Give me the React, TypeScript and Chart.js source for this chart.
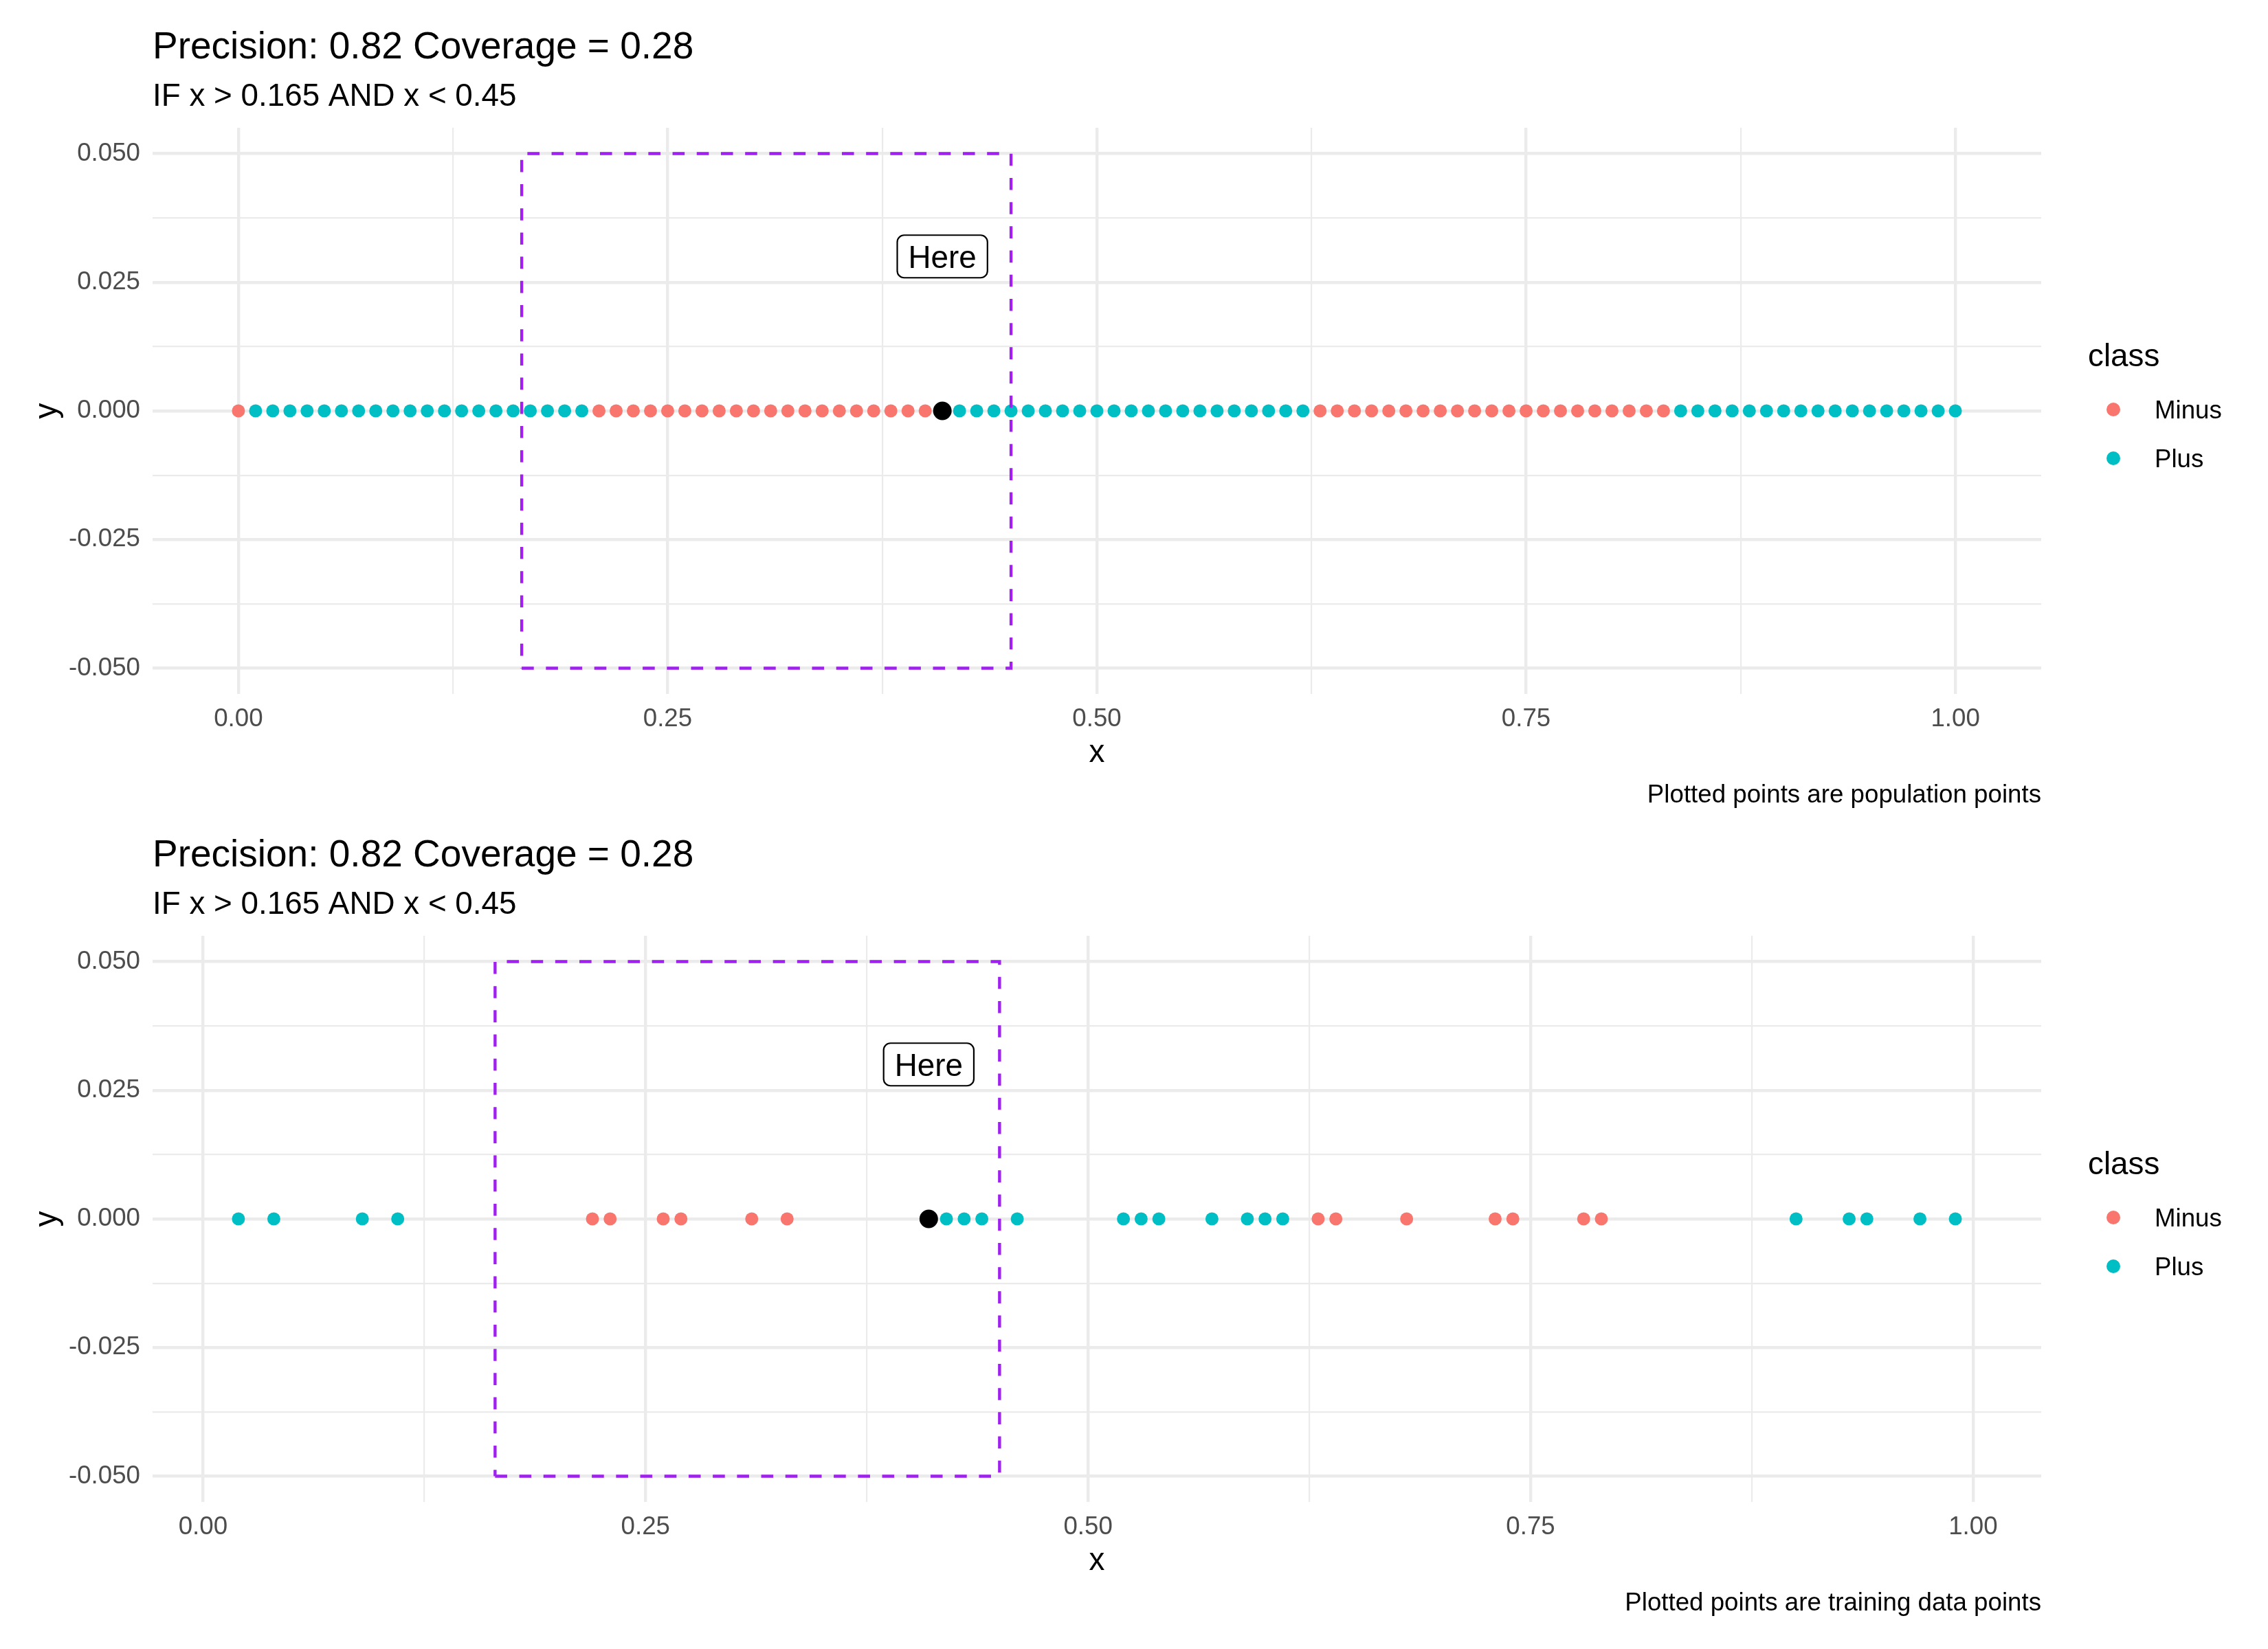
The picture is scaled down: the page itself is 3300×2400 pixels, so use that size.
import React, { useEffect, useRef } from "react";
import { Chart, registerables } from "chart.js";

Chart.register(...registerables);

const FONT = '"Liberation Sans", Arial, Helvetica, sans-serif';

// ---------- data ----------
const classLabels = ["Minus", "Plus"];
const classColors = ["#F8766D", "#00BFC4"];

const populationMinusX = [
  0.0,
  0.21, 0.22, 0.23, 0.24, 0.25, 0.26, 0.27, 0.28, 0.29, 0.3,
  0.31, 0.32, 0.33, 0.34, 0.35, 0.36, 0.37, 0.38, 0.39, 0.4,
  0.63, 0.64, 0.65, 0.66, 0.67, 0.68, 0.69, 0.7, 0.71, 0.72,
  0.73, 0.74, 0.75, 0.76, 0.77, 0.78, 0.79, 0.8, 0.81, 0.82, 0.83,
];
const populationPlusX = [
  0.01, 0.02, 0.03, 0.04, 0.05, 0.06, 0.07, 0.08, 0.09, 0.1,
  0.11, 0.12, 0.13, 0.14, 0.15, 0.16, 0.17, 0.18, 0.19, 0.2,
  0.42, 0.43, 0.44, 0.45, 0.46, 0.47, 0.48, 0.49, 0.5, 0.51,
  0.52, 0.53, 0.54, 0.55, 0.56, 0.57, 0.58, 0.59, 0.6, 0.61, 0.62,
  0.84, 0.85, 0.86, 0.87, 0.88, 0.89, 0.9, 0.91, 0.92, 0.93,
  0.94, 0.95, 0.96, 0.97, 0.98, 0.99, 1.0,
];
const trainingMinusX = [
  0.22, 0.23, 0.26, 0.27, 0.31, 0.33, 0.63, 0.64, 0.68, 0.73, 0.74, 0.78, 0.79,
];
const trainingPlusX = [
  0.02, 0.04, 0.09, 0.11, 0.42, 0.43, 0.44, 0.46, 0.52, 0.53, 0.54, 0.57,
  0.59, 0.6, 0.61, 0.9, 0.93, 0.94, 0.97, 0.99,
];
const pointY = 0;

const instanceX = 0.41;
const instanceY = 0;

const ruleLower = 0.165;
const ruleUpper = 0.45;
const ruleYMin = -0.05;
const ruleYMax = 0.05;

const hereText = "Here";
const hereX = 0.41;
const hereY = 0.03;

const titleText = "Precision: 0.82 Coverage = 0.28";
const subtitleText = "IF x > 0.165 AND x < 0.45";
const legendTitle = "class";
const captionTop = "Plotted points are population points";
const captionBottom = "Plotted points are training data points";

const xMajorTicks = [0, 0.25, 0.5, 0.75, 1];
const xMajorLabels = ["0.00", "0.25", "0.50", "0.75", "1.00"];
const xMinorTicks = [0.125, 0.375, 0.625, 0.875];
const yMajorTicks = [-0.05, -0.025, 0, 0.025, 0.05];
const yMajorLabels = ["-0.050", "-0.025", "0.000", "0.025", "0.050"];
const yMinorTicks = [-0.0375, -0.0125, 0.0125, 0.0375];

// ---------- layout constants ----------
const CANVAS_W = 3300;
const AREA_TOP = 186;
const AREA_BOTTOM = 1010;
const AREA_LEFT = 222;
const AREA_RIGHT = 2970;
const Y_AXIS_W = 200;
const X_AXIS_H = 115;

const near = (a: number, b: number) => Math.abs(a - b) < 1e-9;

const decorPlugin = {
  id: "ggDecor",
  afterDatasetsDraw(chart: any, _args: any, opts: any) {
    const { ctx, scales } = chart;
    const px = scales.x.getPixelForValue(opts.labelX);
    const py = scales.y.getPixelForValue(opts.labelY);
    ctx.save();
    ctx.font = `45.8px ${FONT}`;
    const w = ctx.measureText(opts.labelText).width;
    const bw = w + 32;
    const bh = 62;
    const x0 = px - bw / 2;
    const y0 = py - bh / 2;
    const r = 10;
    ctx.beginPath();
    ctx.moveTo(x0 + r, y0);
    ctx.arcTo(x0 + bw, y0, x0 + bw, y0 + bh, r);
    ctx.arcTo(x0 + bw, y0 + bh, x0, y0 + bh, r);
    ctx.arcTo(x0, y0 + bh, x0, y0, r);
    ctx.arcTo(x0, y0, x0 + bw, y0, r);
    ctx.closePath();
    ctx.fillStyle = "#FFFFFF";
    ctx.fill();
    ctx.lineWidth = 2.2;
    ctx.strokeStyle = "#000000";
    ctx.stroke();
    ctx.fillStyle = "#000000";
    ctx.textAlign = "center";
    ctx.textBaseline = "alphabetic";
    ctx.fillText(opts.labelText, px, py + 16.4);
    ctx.restore();
  },
  afterDraw(chart: any, _args: any, opts: any) {
    const { ctx } = chart;
    ctx.save();
    ctx.fillStyle = "#000000";
    ctx.textBaseline = "alphabetic";
    ctx.textAlign = "left";
    ctx.font = `55px ${FONT}`;
    ctx.fillText(opts.title, 222, 85);
    ctx.font = `45.8px ${FONT}`;
    ctx.fillText(opts.subtitle, 222, 153.5);
    ctx.font = `36.7px ${FONT}`;
    ctx.textAlign = "right";
    ctx.fillText(opts.caption, 2970, 1168);

    // legend
    ctx.textAlign = "left";
    ctx.font = `45.8px ${FONT}`;
    ctx.fillText(opts.legendTitle, 3038, 533);
    ctx.font = `36.7px ${FONT}`;
    opts.legendItems.forEach((it: any, i: number) => {
      const cy = 596 + i * 71;
      ctx.beginPath();
      ctx.arc(3075, cy, 10, 0, Math.PI * 2);
      ctx.fillStyle = it.color;
      ctx.fill();
      ctx.fillStyle = "#000000";
      ctx.fillText(it.label, 3135, cy + 13.2);
    });
    ctx.restore();
  },
};

function makeConfig(minusX: number[], plusX: number[], caption: string, canvasH: number) {
  const allX = [...minusX, ...plusX, instanceX, ruleLower, ruleUpper];
  const xLo = Math.min(...allX);
  const xHi = Math.max(...allX);
  const xPad = (xHi - xLo) * 0.05;
  const yPad = (ruleYMax - ruleYMin) * 0.05;

  const xTickVals = [...xMajorTicks, ...xMinorTicks]
    .filter((v) => v >= xLo - xPad && v <= xHi + xPad)
    .sort((a, b) => a - b);
  const yTickVals = [...yMajorTicks, ...yMinorTicks].sort((a, b) => a - b);

  const tickFont = { family: FONT, size: 36.7 };

  return {
    type: "scatter" as const,
    data: {
      datasets: [
        {
          label: "rule",
          data: [
            { x: ruleLower, y: ruleYMin },
            { x: ruleUpper, y: ruleYMin },
            { x: ruleUpper, y: ruleYMax },
            { x: ruleLower, y: ruleYMax },
            { x: ruleLower, y: ruleYMin },
          ],
          showLine: true,
          borderColor: "#A020F0",
          borderWidth: 4.4,
          borderDash: [17.6, 17.6],
          pointRadius: 0,
          fill: false,
          tension: 0,
        },
        {
          label: "instance",
          data: [{ x: instanceX, y: instanceY }],
          backgroundColor: "#000000",
          borderWidth: 0,
          pointRadius: 13.5,
        },
        {
          label: classLabels[0],
          data: minusX.map((x) => ({ x, y: pointY })),
          backgroundColor: classColors[0],
          borderWidth: 0,
          pointRadius: 9.5,
        },
        {
          label: classLabels[1],
          data: plusX.map((x) => ({ x, y: pointY })),
          backgroundColor: classColors[1],
          borderWidth: 0,
          pointRadius: 9.5,
        },
      ],
    },
    options: {
      responsive: false,
      maintainAspectRatio: false,
      devicePixelRatio: 1,
      animation: false as const,
      events: [],
      layout: {
        padding: {
          top: AREA_TOP,
          left: AREA_LEFT - Y_AXIS_W,
          right: CANVAS_W - AREA_RIGHT,
          bottom: canvasH - AREA_BOTTOM - X_AXIS_H,
        },
      },
      scales: {
        x: {
          type: "linear" as const,
          min: xLo - xPad,
          max: xHi + xPad,
          afterBuildTicks: (scale: any) => {
            scale.ticks = xTickVals.map((v) => ({ value: v }));
          },
          afterFit: (scale: any) => {
            scale.height = X_AXIS_H;
          },
          border: { display: false },
          grid: {
            color: "#EBEBEB",
            drawTicks: false,
            lineWidth: (ctx: any) =>
              xMajorTicks.some((t) => near(t, ctx.tick?.value ?? NaN)) ? 4.4 : 2.2,
          },
          ticks: {
            autoSkip: false,
            maxRotation: 0,
            minRotation: 0,
            padding: 15,
            color: "#4D4D4D",
            font: tickFont,
            callback: (value: number) => {
              const i = xMajorTicks.findIndex((t) => near(t, value));
              return i >= 0 ? xMajorLabels[i] : "";
            },
          },
          title: {
            display: true,
            text: "x",
            color: "#000000",
            font: { family: FONT, size: 45.8 },
            padding: { top: 0, bottom: 1.5 },
          },
        },
        y: {
          type: "linear" as const,
          min: ruleYMin - yPad,
          max: ruleYMax + yPad,
          afterBuildTicks: (scale: any) => {
            scale.ticks = yTickVals.map((v) => ({ value: v }));
          },
          afterFit: (scale: any) => {
            scale.width = Y_AXIS_W;
          },
          border: { display: false },
          grid: {
            color: "#EBEBEB",
            drawTicks: false,
            lineWidth: (ctx: any) =>
              yMajorTicks.some((t) => near(t, ctx.tick?.value ?? NaN)) ? 4.4 : 2.2,
          },
          ticks: {
            autoSkip: false,
            padding: 18,
            color: "#4D4D4D",
            font: tickFont,
            callback: (value: number) => {
              const i = yMajorTicks.findIndex((t) => near(t, value));
              return i >= 0 ? yMajorLabels[i] : "";
            },
          },
          title: {
            display: true,
            text: "y",
            color: "#000000",
            font: { family: FONT, size: 45.8 },
            padding: { top: 20, bottom: 0 },
          },
        },
      },
      plugins: {
        legend: { display: false },
        tooltip: { enabled: false },
        title: { display: false },
        ggDecor: {
          title: titleText,
          subtitle: subtitleText,
          caption,
          legendTitle,
          legendItems: classLabels.map((label, i) => ({ label, color: classColors[i] })),
          labelText: hereText,
          labelX: hereX,
          labelY: hereY,
        },
      },
    },
    plugins: [decorPlugin],
  };
}

function Panel(props: { minusX: number[]; plusX: number[]; caption: string; top: number; height: number }) {
  const ref = useRef<HTMLCanvasElement | null>(null);
  useEffect(() => {
    if (!ref.current) return;
    const chart = new Chart(
      ref.current,
      makeConfig(props.minusX, props.plusX, props.caption, props.height) as any
    );
    return () => chart.destroy();
  }, []);
  return (
    <canvas
      ref={ref}
      width={CANVAS_W}
      height={props.height}
      style={{
        position: "absolute",
        left: 0,
        top: props.top,
        width: CANVAS_W,
        height: props.height,
        display: "block",
      }}
    />
  );
}

export default function App() {
  return (
    <div
      style={{
        position: "absolute",
        left: 0,
        top: 0,
        width: 3300,
        height: 2400,
        background: "#FFFFFF",
        overflow: "hidden",
      }}
    >
      <Panel minusX={populationMinusX} plusX={populationPlusX} caption={captionTop} top={0} height={1176} />
      <Panel minusX={trainingMinusX} plusX={trainingPlusX} caption={captionBottom} top={1176} height={1224} />
    </div>
  );
}
